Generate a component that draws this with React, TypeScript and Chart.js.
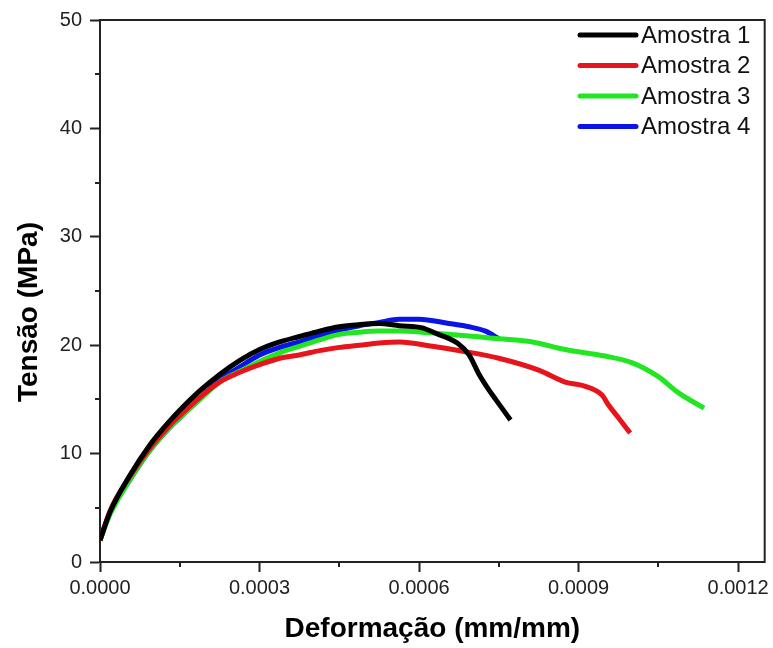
import React, { useEffect, useRef } from "react";
import { Chart, registerables } from "chart.js";

Chart.register(...registerables);

const seriesLabels = ["Amostra 1", "Amostra 2", "Amostra 3", "Amostra 4"];
const seriesColors = ["#000000", "#e8141b", "#22e622", "#0a14e6"];

const strain1 = [0, 0.0000188, 0.0000563, 0.0000938, 0.000131, 0.00015, 0.000188, 0.000225, 0.000263, 0.0003, 0.000338, 0.000375, 0.000413, 0.00045, 0.000488, 0.000525, 0.000563, 0.000606, 0.000631, 0.000672, 0.000694, 0.000713, 0.000731, 0.000744, 0.000772];
const stress1 = [2.0, 4.6, 8.0, 10.8, 13.0, 14.0, 15.8, 17.3, 18.6, 19.6, 20.3, 20.8, 21.3, 21.7, 21.9, 22.0, 21.8, 21.6, 21.1, 20.2, 19.1, 17.3, 15.9, 15.0, 13.1];

const strain2 = [0, 0.0000188, 0.0000563, 0.0000938, 0.000131, 0.00015, 0.000188, 0.000225, 0.000263, 0.0003, 0.000338, 0.000375, 0.000413, 0.00045, 0.000488, 0.000525, 0.000563, 0.000625, 0.000688, 0.00075, 0.000825, 0.000875, 0.000913, 0.000944, 0.000956, 0.000975, 0.000997];
const stress2 = [2.0, 4.7, 7.9, 10.5, 12.6, 13.5, 15.2, 16.6, 17.5, 18.2, 18.8, 19.1, 19.5, 19.8, 20.0, 20.2, 20.3, 19.9, 19.4, 18.8, 17.7, 16.6, 16.2, 15.4, 14.5, 13.3, 11.9];

const strain3 = [0, 0.0000188, 0.0000563, 0.0000938, 0.000131, 0.00015, 0.000188, 0.000225, 0.000263, 0.0003, 0.000338, 0.000375, 0.000413, 0.00045, 0.000488, 0.000525, 0.000563, 0.000606, 0.00075, 0.000813, 0.000875, 0.00095, 0.001, 0.00105, 0.001088, 0.001136];
const stress3 = [2.0, 4.4, 7.6, 10.3, 12.4, 13.3, 15.0, 16.6, 17.6, 18.5, 19.3, 19.9, 20.5, 21.0, 21.2, 21.3, 21.3, 21.2, 20.6, 20.3, 19.6, 19.0, 18.4, 17.1, 15.6, 14.2];

const strain4 = [0, 0.0000188, 0.0000563, 0.0000938, 0.000131, 0.00015, 0.000188, 0.000225, 0.000263, 0.0003, 0.000338, 0.000375, 0.000413, 0.00045, 0.000488, 0.000525, 0.000563, 0.0006, 0.000656, 0.000694, 0.000725, 0.00075];
const stress4 = [2.1, 4.5, 7.6, 10.3, 12.4, 13.3, 15.1, 16.8, 18.0, 19.1, 19.8, 20.3, 20.9, 21.4, 21.8, 22.1, 22.4, 22.4, 22.0, 21.7, 21.3, 20.6];

const strains = [strain1, strain2, strain3, strain4];
const stresses = [stress1, stress2, stress3, stress4];

const xMax = 0.00125;
const xMajor = 0.0003;
const xMinor = 0.00015;
const yMax = 50;
const yMajor = 10;
const yMinor = 5;

const xTitle = "Deformação (mm/mm)";
const yTitle = "Tensão (MPa)";

const FONT = "'Liberation Sans', Arial, sans-serif";
const INK = "#222222";

const isMultiple = (v: number, step: number) => Math.abs(v / step - Math.round(v / step)) < 1e-6;

const framePlugin = {
  id: "frameAndExtras",
  afterDraw(chart: any) {
    const { ctx, chartArea } = chart;
    const { left, right, top, bottom } = chartArea;
    const xs = chart.scales.x;
    const ys = chart.scales.y;
    ctx.save();
    ctx.strokeStyle = INK;
    ctx.lineWidth = 2;
    ctx.beginPath();
    ctx.moveTo(left - 1, top);
    ctx.lineTo(right, top);
    ctx.lineTo(right, bottom + 1);
    ctx.stroke();
    ctx.beginPath();
    for (let v = yMinor; v < yMax; v += yMajor) {
      const py = Math.round(ys.getPixelForValue(v));
      ctx.moveTo(left - 5, py);
      ctx.lineTo(left, py);
    }
    for (let v = xMinor; v < xMax; v += xMajor) {
      const px = Math.round(xs.getPixelForValue(v));
      ctx.moveTo(px, bottom);
      ctx.lineTo(px, bottom + 5);
    }
    ctx.stroke();
    ctx.fillStyle = "#000";
    ctx.font = `bold 28px ${FONT}`;
    ctx.textAlign = "center";
    ctx.textBaseline = "middle";
    ctx.translate(29, 312);
    ctx.rotate(-Math.PI / 2);
    ctx.fillText(yTitle, 0, 0);
    ctx.restore();

    ctx.save();
    chart.data.datasets.forEach((ds: any, i: number) => {
      const cy = 35 + i * 30.5;
      ctx.strokeStyle = ds.borderColor;
      ctx.lineWidth = 5;
      ctx.lineCap = "round";
      ctx.beginPath();
      ctx.moveTo(580, cy);
      ctx.lineTo(636, cy);
      ctx.stroke();
      ctx.fillStyle = "#111";
      ctx.font = `24px ${FONT}`;
      ctx.textAlign = "left";
      ctx.textBaseline = "middle";
      ctx.fillText(ds.label, 641, cy + 1);
    });
    ctx.restore();
  },
};

export default function App() {
  const ref = useRef<HTMLCanvasElement | null>(null);
  useEffect(() => {
    document.body.style.margin = "0";
    const canvas = ref.current;
    if (!canvas) return;
    const datasets = seriesLabels.map((label, i) => ({
      label,
      data: strains[i].map((x, j) => ({ x, y: stresses[i][j] })),
      borderColor: seriesColors[i],
      backgroundColor: seriesColors[i],
      borderWidth: 5,
      pointRadius: 0,
      showLine: true,
      cubicInterpolationMode: "monotone",
      fill: false,
    }));
    const chart = new Chart(canvas, {
      type: "scatter",
      data: { datasets },
      plugins: [framePlugin],
      options: {
        animation: false,
        responsive: false,
        devicePixelRatio: 1,
        layout: { padding: { top: 20, right: 8, left: 0, bottom: 0 } },
        plugins: { legend: { display: false }, tooltip: { enabled: false } },
        scales: {
          x: {
            type: "linear",
            min: 0,
            max: xMax,
            afterBuildTicks: (scale: any) => {
              const t = [];
              for (let v = 0; v <= xMax + 1e-12; v += xMajor) t.push({ value: v });
              scale.ticks = t;
            },
            afterFit: (scale: any) => {
              scale.height = 86;
            },
            ticks: {
              color: INK,
              font: { family: FONT, size: 20 },
              padding: 4,
              maxRotation: 0,
              autoSkip: false,
              callback: (v: any) => (isMultiple(Number(v), xMajor) ? Number(v).toFixed(4) : ""),
            },
            grid: { display: true, drawOnChartArea: false, drawTicks: true, tickLength: 10, tickWidth: 2, tickColor: INK },
            border: { display: true, color: INK, width: 2 },
            title: {
              display: true,
              text: xTitle,
              color: "#000",
              font: { family: FONT, size: 28, weight: "bold" },
              padding: { top: 0, bottom: 2 },
            },
          },
          y: {
            type: "linear",
            min: 0,
            max: yMax,
            afterBuildTicks: (scale: any) => {
              const t = [];
              for (let v = 0; v <= yMax; v += yMajor) t.push({ value: v });
              scale.ticks = t;
            },
            afterFit: (scale: any) => {
              scale.width = 100;
            },
            ticks: {
              color: INK,
              font: { family: FONT, size: 20 },
              padding: 8,
              autoSkip: false,
              callback: (v: any) => String(v),
            },
            grid: { display: true, drawOnChartArea: false, drawTicks: true, tickLength: 10, tickWidth: 2, tickColor: INK },
            border: { display: true, color: INK, width: 2 },
          },
        },
      } as any,
    });
    return () => chart.destroy();
  }, []);
  return (
    <div style={{ width: 773, height: 648, background: "#fff" }}>
      <canvas ref={ref} width={773} height={648} />
    </div>
  );
}
